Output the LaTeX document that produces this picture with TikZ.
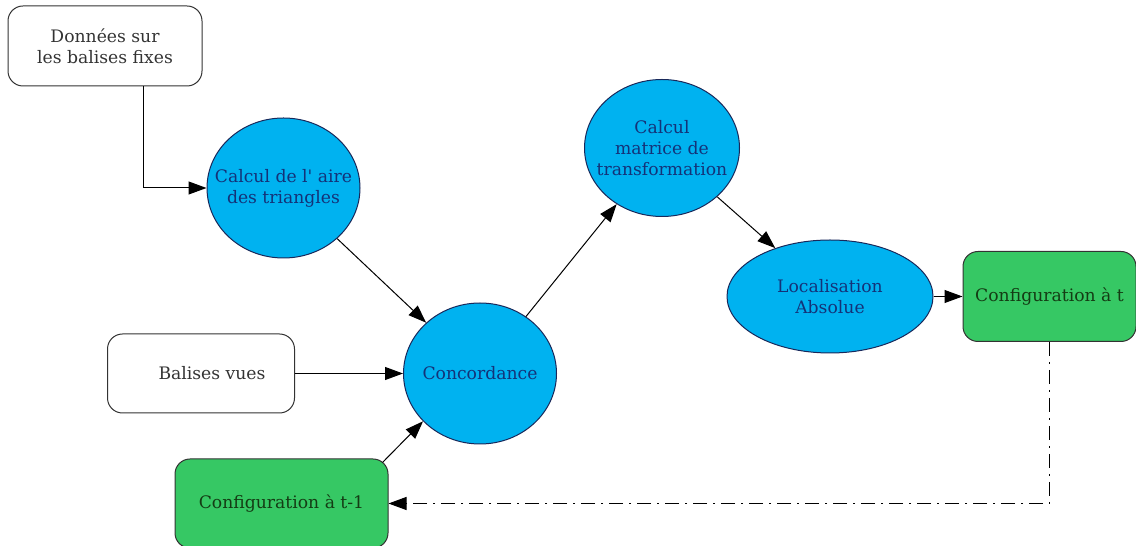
\documentclass[tikz,border=0pt]{standalone}
\usepackage{fontspec}
\setmainfont{DejaVu Serif}
\usetikzlibrary{
    shapes,
    positioning,
    arrows.meta
}
\definecolor{stepblue}{RGB}{0,178,240}
\definecolor{stepgreen}{RGB}{54,200,100}
\definecolor{blueborder}{RGB}{25,40,90}
\definecolor{bluetext}{RGB}{20,50,120}
\definecolor{greentext}{RGB}{20,60,20}
\tikzset{process/.style={
    ellipse,
    draw=blueborder,
    fill=stepblue,
    inner sep=0pt
}}
\tikzset{process text/.style={
    text=bluetext
}}
\tikzset{source/.style={
    draw=black!80,
    text=black!80,
    rounded corners=7.5pt
}}
\tikzset{config/.style={
    draw=black!80,
    fill=stepgreen,
    text=greentext,
    rounded corners=7.5pt
}}
\tikzset{arrow/.style={->,>={Triangle[length=9pt,width=6.5pt]}}}

\begin{document}
\begin{tikzpicture}[
            x=0.5pt,
            y=0.5pt,
            align=center,
            line width=0.5pt,
            font=\fontsize{8.6}{10.5}\selectfont,
    ]
        \useasboundingbox (0,0) rectangle (1136,546);

        \node[source, minimum width=97pt, minimum height=40pt]
            (donnees) at (105,500)
            {Données sur\\les balises fixes};

        \node[process, minimum width=76.5pt, minimum height=70pt,
              label={[process text]center:Calcul de l\textquotesingle{} aire\\des triangles}]
            (aire) at (283.5,358)
            {};

        \node[process, minimum width=76.5pt, minimum height=70.5pt,
              label={[process text]center:Concordance}]
            (concordance) at (480,172.5)
            {};

        \node[process, minimum width=77.5pt, minimum height=68.5pt,
              label={[process text]center:Calcul\\matrice de\\transformation}]
            (matrice) at (662,398)
            {};

        \node[process, minimum width=103pt, minimum height=56.5pt,
              label={[process text]center:Localisation\\Absolue}]
            (localisation) at (830,249.5)
            {};

        \node[config, minimum width=86.5pt, minimum height=45pt, right=14.5pt of localisation]
            (config-t)
            {Configuration à t};

        \node[source, minimum width=93.5pt, minimum height=39.5pt, left=54pt of concordance]
            (balises-vues)
            {\hspace*{11pt}Balises vues};

        \node[config, minimum width=106.5pt, minimum height=44.5pt]
            (config-t1) at (281.5,42.5)
            {Configuration à t-1};

        \draw[arrow] ([xshift=19pt]donnees.south) |- (aire.west);
        \draw[arrow] (aire) -- (concordance);
        \draw[arrow] (balises-vues) -- (concordance);
        \draw[arrow] ([shift={(-3pt,-2pt)}]config-t1.north east) -- (concordance.220);
        \draw[arrow] (concordance) -- (matrice);
        \draw[arrow] (matrice) -- (localisation);
        \draw[arrow] (localisation) -- (config-t);

        \draw[arrow, dash pattern=on 7pt off 3pt on 1pt off 3pt] (config-t.south) |- (config-t1.east);

    \end{tikzpicture}
\end{document}
